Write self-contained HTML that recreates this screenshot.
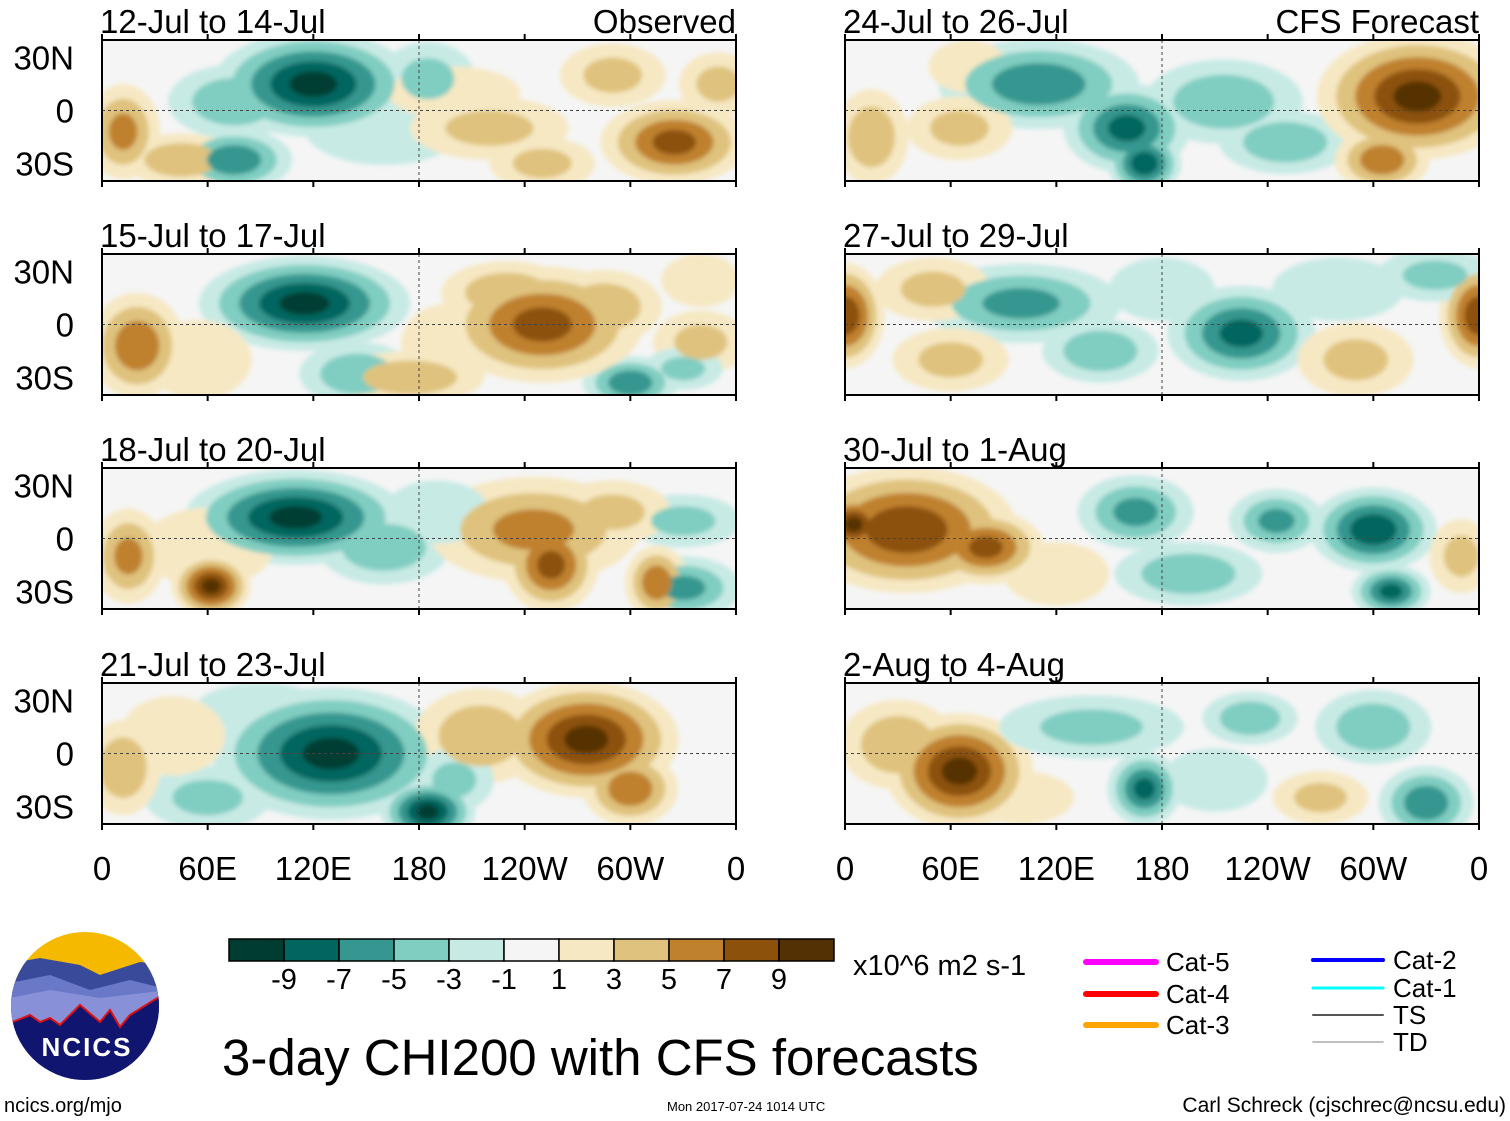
<!DOCTYPE html>
<html><head><meta charset="utf-8"><style>
html,body{margin:0;padding:0;background:#fff}
svg{display:block;font-family:"Liberation Sans",sans-serif}
</style></head><body>
<svg id="c" width="1510" height="1121" viewBox="0 0 1510 1121">
<defs>
<filter id="bl" x="-10%" y="-20%" width="120%" height="140%"><feGaussianBlur stdDeviation="2.5"/></filter>
</defs>
<g id="panels"></g>
<g id="cbar"></g>
<text x="853" y="975" font-size="29">x10^6 m2 s-1</text>
<text x="222" y="1075" font-size="51">3-day CHI200 with CFS forecasts</text>
<text x="4" y="1112" font-size="20">ncics.org/mjo</text>
<text x="667" y="1111" font-size="13">Mon 2017-07-24 1014 UTC</text>
<text x="1506" y="1112" font-size="21" text-anchor="end">Carl Schreck (cjschrec@ncsu.edu)</text>
<g>
<clipPath id="lc"><circle cx="85" cy="1006" r="74"/></clipPath>
<g clip-path="url(#lc)">
<rect x="0" y="930" width="170" height="160" fill="#f5b900"/>
<path d="M0 965 L40 958 L80 965 L100 975 L140 962 L170 965 L170 1090 L0 1090Z" fill="#3a4a9a"/>
<path d="M0 985 L50 975 L90 990 L130 980 L170 990 L170 1090 L0 1090Z" fill="#6a78c8"/>
<path d="M0 1000 L50 990 L100 998 L170 990 L170 1090 L0 1090Z" fill="#8890d8"/>
<path d="M0 1027 L30 1015 L40 1022 L50 1018 L60 1025 L80 1005 L100 1022 L110 1010 L120 1027 L130 1015 L170 990 L170 1090 L0 1090Z" fill="#101570" stroke="#e01010" stroke-width="2"/>
</g>
<text x="87" y="1056" font-size="26" font-weight="bold" fill="#fff" text-anchor="middle" letter-spacing="2">NCICS</text>
</g>
<g id="legend"></g>
</svg>
<script>
const NS='http://www.w3.org/2000/svg';
const svg=document.getElementById('c');
function el(t,a,p){const e=document.createElementNS(NS,t);for(const k in a)e.setAttribute(k,a[k]);(p||svg).appendChild(e);return e;}
const levelColors=['#003c30','#01665e','#35978f','#80cdc1','#c7eae5','#f5f5f5','#f6e8c3','#dfc27d','#bf812d','#8c510a','#543005'];
const cbarLabels=['-9','-7','-5','-3','-1','1','3','5','7','9'];
const lonTicks=['0','60E','120E','180','120W','60W','0'];
const latTicks=['30N','0','30S'];
const panelTitles=['12-Jul to 14-Jul','15-Jul to 17-Jul','18-Jul to 20-Jul','21-Jul to 23-Jul','24-Jul to 26-Jul','27-Jul to 29-Jul','30-Jul to 1-Aug','2-Aug to 4-Aug'];
// blobs: [lon, lat, value, lonRadius, latRadius]
const blobs0=[[120,15,-9,38,20],[75,5,-4,25,14],[75,-28,-6,22,12],[185,18,-3,18,14],[160,-10,-2,30,14],[12,-12,5,14,18],[325,-18,7,28,16],[220,-10,3,30,12],[200,10,2,25,10],[290,20,3,20,12],[350,15,3,15,12],[45,-28,4,22,10],[250,-30,3,20,10]];
const blobs1=[[115,12,-9,40,18],[145,-28,-4,22,12],[300,-33,-6,18,10],[250,0,7,38,22],[230,18,4,25,12],[285,10,4,22,14],[20,-12,6,18,20],[175,-30,4,28,10],[340,-10,3,18,12],[200,-10,2,20,15],[55,-20,2,20,15],[340,25,2,15,10],[330,-25,-3,15,8]];
const blobs2=[[110,12,-9,42,18],[160,-5,-4,25,14],[330,-28,-5,22,12],[330,10,-3,22,10],[245,5,5,40,20],[255,-15,7,18,18],[62,-27,9,15,12],[15,-10,5,14,18],[315,-25,6,12,14],[290,15,3,22,12],[60,-5,2,25,15],[190,15,-2,20,12]];
const blobs3=[[130,0,-9,45,25],[185,-33,-9,18,12],[60,-25,-3,24,12],[90,25,-2,25,10],[275,8,9,35,22],[300,-20,6,18,14],[215,10,4,25,18],[12,-8,4,14,18],[200,-15,-3,15,12],[40,10,2,20,15]];
const blobs4=[[110,15,-6,38,17],[160,-10,-7,24,17],[170,-30,-8,14,12],[215,5,-4,30,16],[250,-18,-4,25,12],[325,8,9,38,24],[305,-28,6,18,12],[15,-15,4,14,18],[65,-10,3,20,12],[70,25,2,15,10]];
const blobs5=[[0,5,8,15,20],[360,5,8,15,20],[100,12,-5,38,15],[145,-15,-4,22,12],[225,-5,-7,28,18],[335,28,-3,22,10],[60,-20,3,22,12],[290,-20,3,22,14],[50,20,3,22,12],[280,20,-2,25,12],[180,20,-2,20,12]];
const blobs6=[[35,5,8,42,24],[5,8,9,14,12],[80,-5,7,22,14],[165,15,-5,22,14],[245,10,-5,18,12],[300,5,-8,24,16],[310,-30,-7,15,10],[195,-20,-4,28,12],[120,-20,2,20,12],[350,-10,3,12,14]];
const blobs7=[[65,-10,9,28,22],[30,5,4,22,17],[170,-20,-7,14,14],[330,-28,-6,18,14],[230,20,-4,18,10],[140,15,-3,35,12],[270,-25,3,18,10],[300,15,-4,22,14],[210,-15,-2,20,12],[100,-25,2,20,10]];
const allBlobs=[blobs0,blobs1,blobs2,blobs3,blobs4,blobs5,blobs6,blobs7];
const colX=[102,845], W=634, rowY=[40,254,468,683], H=141;
function colorIdx(v){return Math.min(10,Math.max(0,Math.floor((v+11)/2)));}
allBlobs.forEach((bl,i)=>{
  const x0=colX[Math.floor(i/4)], y0=rowY[i%4];
  const lx=l=>x0+l/360*W, ly=la=>y0+(40-la)/80*H;
  const g=el('g',{},document.getElementById('panels'));
  
  
  const cp=el('clipPath',{id:'cp'+i},g);
  el('rect',{x:x0,y:y0,width:W,height:H},cp);
  el('rect',{x:x0,y:y0,width:W,height:H,fill:'#f5f5f5'},g);
  const f=el('g',{'clip-path':'url(#cp'+i+')'},g);
  const fb=el('g',{filter:'url(#bl)'},f);
  for(let lev=1;lev<=9;lev+=2){
    bl.forEach(b=>{
      const a=Math.abs(b[2]); if(a<lev) return;
      const frac=1-(lev-1)/(a+1.5);
      const v=Math.sign(b[2])*(lev+1);
      const e=el('ellipse',{cx:lx(b[0]),cy:ly(b[1]),rx:b[3]/360*W*frac*1.5,ry:b[4]/80*H*frac*1.5,fill:levelColors[colorIdx(v)]},fb);
      
      
    });
  }
  el('line',{x1:x0,y1:ly(0),x2:x0+W,y2:ly(0),stroke:'#444','stroke-dasharray':'3,3','stroke-width':1},g);
  el('line',{x1:lx(180),y1:y0,x2:lx(180),y2:y0+H,stroke:'#444','stroke-dasharray':'3,3','stroke-width':1},g);
  el('rect',{x:x0,y:y0,width:W,height:H,fill:'none',stroke:'#000','stroke-width':2},g);
  for(let k=0;k<=6;k++){const tx=lx(k*60);el('line',{x1:tx,y1:y0+H,x2:tx,y2:y0+H+6,stroke:'#000','stroke-width':2},g);el('line',{x1:tx,y1:y0,x2:tx,y2:y0-6,stroke:'#000','stroke-width':2},g);}
  const t=el('text',{x:x0-2,y:y0-7,'font-size':33},g);t.textContent=panelTitles[i];
  
  
  if(i%4===0){const h=el('text',{x:x0+W,y:y0-7,'font-size':33,'text-anchor':'end'},g);h.textContent=i===0?'Observed':'CFS Forecast';}
  if(i<4) latTicks.forEach((s,k)=>{const tt=el('text',{x:74,y:ly(30-30*k)+12,'font-size':33,'text-anchor':'end'},g);tt.textContent=s;
    
    });
  if(i%4===3) lonTicks.forEach((s,k)=>{const tt=el('text',{x:lx(k*60),y:880,'font-size':33,'text-anchor':'middle'},g);tt.textContent=s;
    
    });
});
const cb=document.getElementById('cbar');
levelColors.forEach((c,k)=>{const r=el('rect',{x:229+k*55,y:939,width:55,height:22,fill:c,stroke:'#000','stroke-width':1.5},cb);
  
  });
cbarLabels.forEach((s,k)=>{const t=el('text',{x:284+k*55,y:989,'font-size':29,'text-anchor':'middle'},cb);t.textContent=s;
  
  });
const lg=document.getElementById('legend');
const legItems=[['Cat-5','#ff00ff',6,1086,962],['Cat-4','#ff0000',6,1086,994],['Cat-3','#ffa500',6,1086,1025],['Cat-2','#0000ff',4,1313,960],['Cat-1','#00ffff',3,1313,988],['TS','#555',2,1313,1015],['TD','#aaa',1.5,1313,1042]];
legItems.forEach(d=>{const l=el('line',{x1:d[3],y1:d[4],x2:d[3]+70,y2:d[4],stroke:d[1],'stroke-width':d[2],'stroke-linecap':'round'},lg);
  
  
  const t=el('text',{x:d[3]+80,y:d[4]+9,'font-size':26},lg);t.textContent=d[0];
  
  });
</script>
</body></html>
